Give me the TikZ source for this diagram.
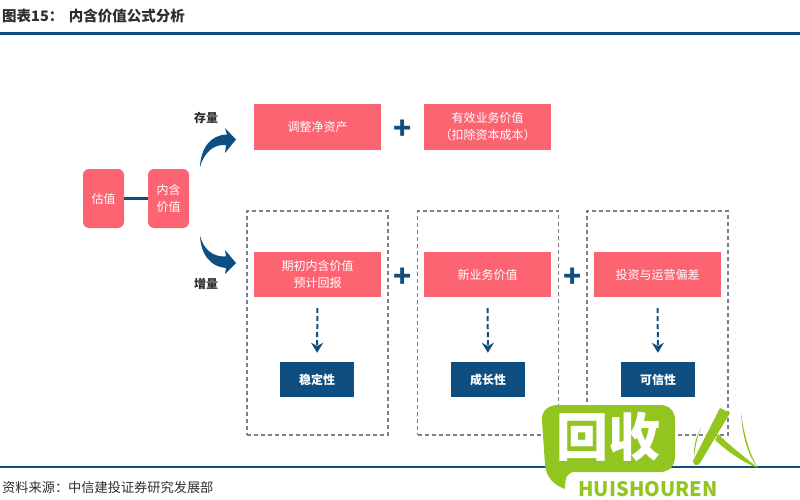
\documentclass[tikz,border=0pt]{standalone}
\usepackage{fontspec}
\setmainfont{Noto Sans CJK SC}
\usepackage{xcolor}
\usetikzlibrary{arrows.meta,calc}
\definecolor{nhpink}{HTML}{FC6472}
\definecolor{nhnavy}{HTML}{0E4E80}
\definecolor{nhgrey}{HTML}{7D8088}
\definecolor{nhgreen}{HTML}{92C51F}
\definecolor{nhtext}{HTML}{2E2E2E}
\begin{document}
\begin{tikzpicture}[
  x=1pt,y=-1pt,
  val/.style={fill=nhpink,rounded corners=6pt,text=white,minimum width=41pt,minimum height=59pt,inner sep=0pt,align=center,font=\fontsize{12}{17}\selectfont},
  term/.style={fill=nhpink,text=white,minimum width=127pt,minimum height=45pt,inner sep=0pt,align=center,font=\fontsize{12}{17}\selectfont},
  trait/.style={fill=nhnavy,text=white,minimum width=74pt,minimum height=35pt,inner sep=0pt,font=\fontsize{12}{14}\selectfont\bfseries},
  frame/.style={draw=nhgrey,dash pattern=on 4pt off 3pt,line width=1.4pt,minimum width=141pt,minimum height=224pt,inner sep=0pt},
  plus/.style={text=nhnavy,font=\fontsize{30}{30}\selectfont\bfseries,inner sep=0pt},
  tag/.style={text=nhtext,font=\fontsize{12}{14}\selectfont\bfseries,inner sep=0pt},
  rule/.style={nhnavy,line width=3pt}
]
\useasboundingbox (0,0) rectangle (800,500);
% header and footer
\node[tag,anchor=west,font=\fontsize{14.5}{16}\selectfont\bfseries] (ttl) at (2,16) {图表15：\hspace{5.5pt}内含价值公式分析};
\coordinate (hl) at (0,34); \coordinate (hr) at (800,34);
\draw[rule] (hl) -- (hr);
\coordinate (fl) at (0,467); \coordinate (fr) at (800,467);
\draw[nhnavy,line width=2pt] (fl) -- (fr);
\node[tag,anchor=west,font=\fontsize{13.2}{15}\selectfont] (src) at (2,487) {资料来源：中信建投证券研究发展部};
% dashed frames
\node[frame] (fa) at (317.5,323) {};
\node[frame] (fb) at (488,323) {};
\node[frame] (fc) at (657.5,323) {};
% left side
\node[val] (gz) at (103.5,198.5) {估值};
\node[val] (nh) at (168.5,198.5) {内含\\价值};
\draw[nhnavy,line width=3pt] (gz) -- (nh);
\node[tag] (cl) at (206,118) {存量};
\node[tag] (zl) at (206,284) {增量};
\fill[nhnavy] (200,167) .. controls (201,147) and (211,135) .. (227,134.5) -- (225,128) -- (236,139.5) -- (225,153) -- (226,145) .. controls (213,144) and (204,153) .. (200,167) -- cycle;
\fill[nhnavy] (200,236) .. controls (204,250) and (213,257) .. (226,256.5) -- (225,250) -- (236,263) -- (225,274) -- (226,268) .. controls (211,267) and (201,255) .. (200,236) -- cycle;
% terms
\node[term] (tz) at (317.5,127) {调整净资产};
\node[term] (yx) at (487.5,127) {有效业务价值\\（扣除资本成本）};
\node[term] (qc) at (317.5,274.5) {期初内含价值\\预计回报};
\node[term] (xy) at (487.5,274.5) {新业务价值};
\node[term] (tx) at (657.5,274.5) {投资与运营偏差};
\node[plus] (pa) at (402.5,130) {+};
\node[plus] (pb) at (402.5,277.5) {+};
\node[plus] (pc) at (572.5,277.5) {+};
% traits
\node[trait] (wd) at (317,379.5) {稳定性};
\node[trait] (cz) at (488,379.5) {成长性};
\node[trait] (kx) at (658,379.5) {可信性};
\foreach \a/\b in {qc/wd,xy/cz,tx/kx}
  \draw[nhnavy,line width=2pt,dash pattern=on 5pt off 3pt,shorten <=11pt,shorten >=9pt,-{Stealth[length=10pt,width=12pt]}] (\a.south) -- (\b.north);
% watermark
\fill[nhgreen] (558,405) -- (660,405) .. controls (670,405) and (675,412) .. (675,420) -- (675,456) .. controls (675,466) and (669,472) .. (660,472) -- (575,472) .. controls (568,472) and (565,476) .. (565,489) .. controls (553,485) and (546,476) .. (545,465) -- (542,421) .. controls (541,411) and (548,405) .. (558,405) -- cycle;
\node[text=white,inner sep=0pt,font=\fontsize{52}{52}\selectfont\bfseries] (hs) at (608,437) {回收};
\node[text=nhgreen,inner sep=0pt,font=\fontsize{20}{20}\selectfont\bfseries\itshape] (py) at (648,489) {HUISHOUREN};
\fill[nhgreen] (720,408) -- (730,413) -- (700,463) .. controls (697,467) and (693,465) .. (693,461) -- cycle;
\fill[nhgreen] (718,434) .. controls (730,446) and (746,458) .. (758,468) .. controls (744,463) and (728,452) .. (715,440) -- cycle;
\fill[nhgreen] (741,413) .. controls (744,435) and (750,455) .. (758,468) .. controls (748,456) and (742,435) .. (741,413) -- cycle;
\fill[nhgreen] (701,428) .. controls (697,437) and (695,448) .. (694,458) .. controls (693,448) and (696,436) .. (701,428) -- cycle;
\end{tikzpicture}
\end{document}
